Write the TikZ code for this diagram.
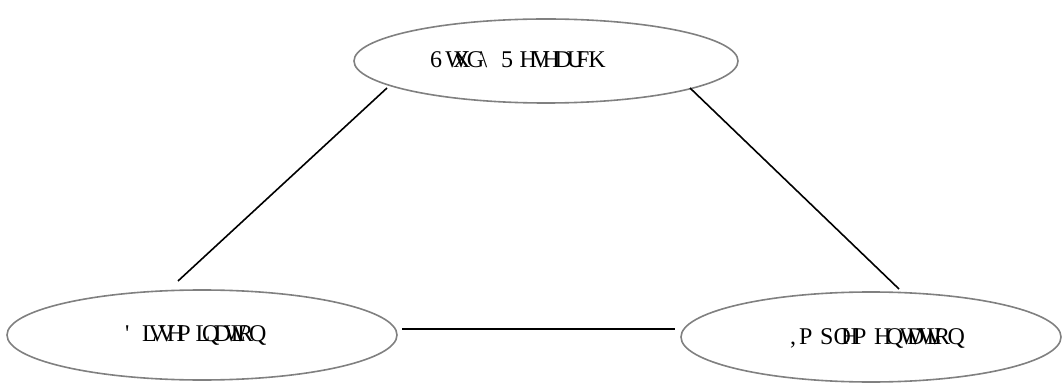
\documentclass[tikz,border=0pt]{standalone}
\usepackage{fontspec}
\usetikzlibrary{shapes.geometric}
\newfontfamily\lblfont{Liberation Serif}
% each glyph is set in a box as wide as the letter it stands for
\newlength\advw
\newcommand\advsize{27}
\newcommand\gp[2]{\settowidth\advw{\fontsize{\advsize}{\advsize}\selectfont #1}\makebox[\advw][l]{#2}}
\tikzset{
  stage/.style={draw=black!50, line width=1.6pt, ellipse, inner sep=0pt},
  lbl/.style={anchor=west, inner sep=0pt, font=\lblfont\fontsize{24}{24}\selectfont},
  link/.style={draw=black, line width=1.6pt}
}
\begin{document}
\begin{tikzpicture}[x=1pt, y=-1pt]
\useasboundingbox (0,0) rectangle (1062,387);

% the three stages
\node[stage, minimum width=384pt, minimum height=84pt] (top) at (546,61) {};
\node[stage, minimum width=390pt, minimum height=90pt] (left) at (202,335) {};
\node[stage, minimum width=380pt, minimum height=90pt] (right) at (871,337) {};

\node[lbl] (toptext) at (430,60) {\renewcommand\advsize{27.5}%
  \gp{S}{6}\gp{t}{W}\gp{u}{X}\gp{d}{G}\gp{y}{\textbackslash}\gp{\ }{}%
  \gp{R}{5}\gp{e}{H}\gp{s}{V}\gp{e}{H}\gp{a}{D}\gp{r}{U}\gp{c}{F}\gp{h}{K}};
\node[lbl] (lefttext) at (125,335) {\renewcommand\advsize{23.5}%
  \gp{D}{'}\gp{i}{L}\gp{s}{V}\gp{s}{V}\gp{e}{H}\gp{m}{P}\gp{i}{L}%
  \gp{n}{Q}\gp{a}{D}\gp{t}{W}\gp{i}{L}\gp{o}{R}\gp{n}{Q}};
\node[lbl] (righttext) at (790,338) {\renewcommand\advsize{27}%
  \gp{I}{,}\gp{m}{P}\gp{p}{S}\gp{l}{O}\gp{e}{H}\gp{m}{P}\gp{e}{H}%
  \gp{n}{Q}\gp{t}{W}\gp{a}{D}\gp{t}{W}\gp{i}{L}\gp{o}{R}\gp{n}{Q}};

% connector end points, set a little off the ellipses
\coordinate (tl) at (387,88);
\coordinate (lt) at (178,281);
\coordinate (tr) at (690,88);
\coordinate (rt) at (899,289);
\coordinate (lr) at (402,329);
\coordinate (rl) at (675,329);

\draw[link] (tl) -- (lt);
\draw[link] (tr) -- (rt);
\draw[link] (lr) -- (rl);
\end{tikzpicture}
\end{document}
